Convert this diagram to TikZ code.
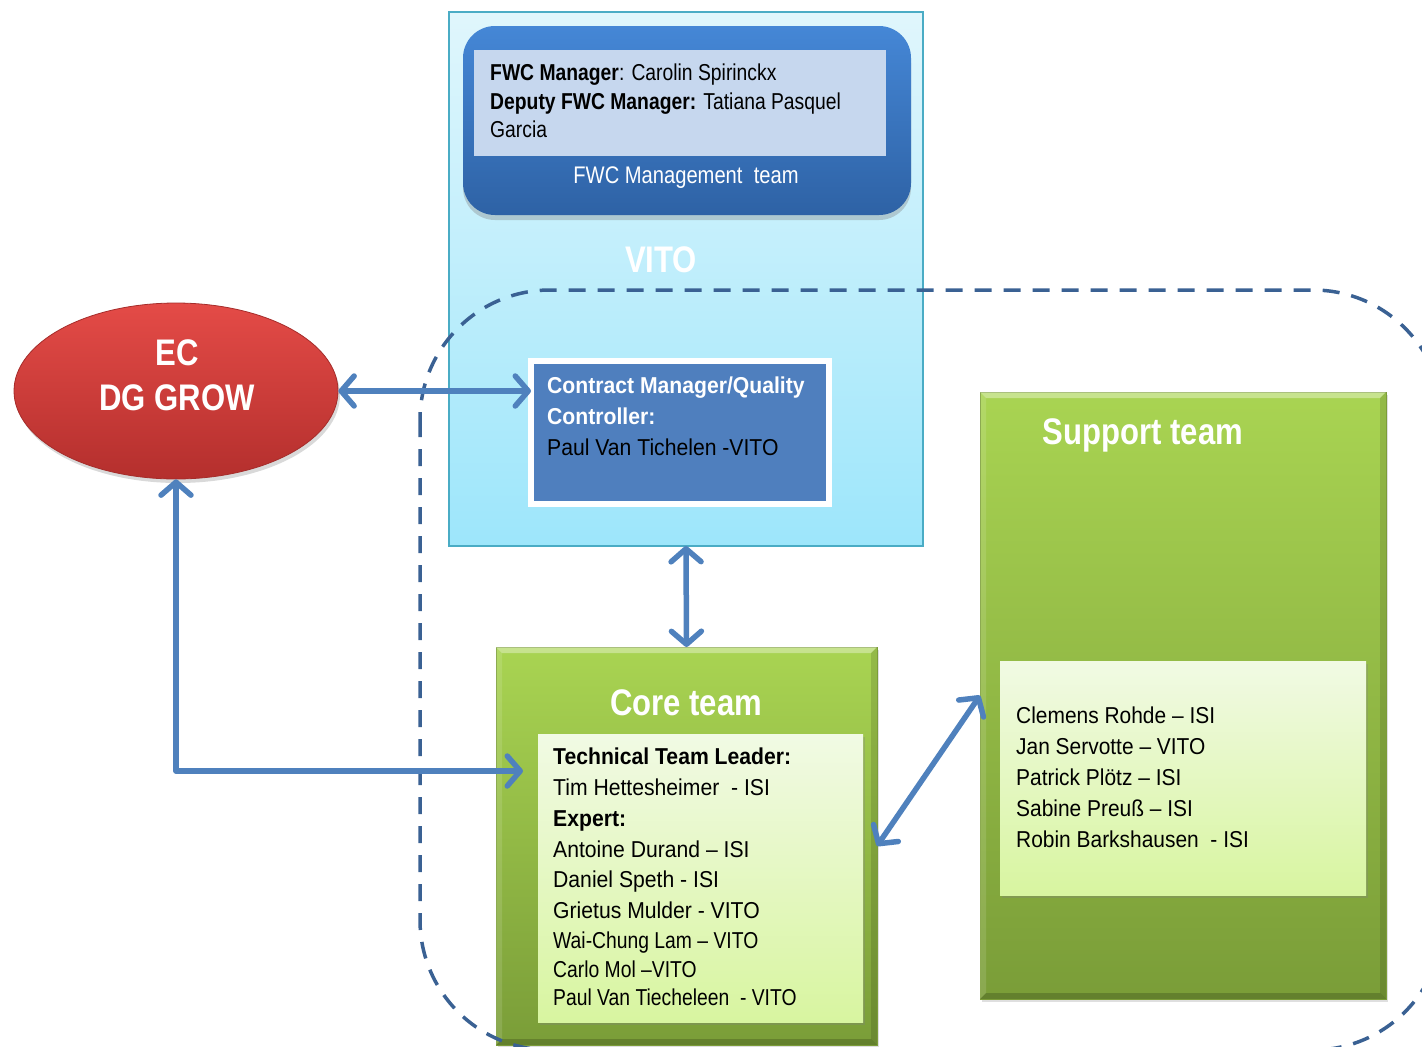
\documentclass[tikz,border=0pt]{standalone}
\usepackage{fontspec}
\setmainfont{Liberation Sans}
\newfontfamily\fA[FakeStretch=0.84]{Liberation Sans}
\newfontfamily\fB[FakeStretch=0.92]{Liberation Sans}
\newfontfamily\fD[FakeStretch=0.91]{Liberation Sans}
\usetikzlibrary{shapes.geometric,arrows.meta,shadows,calc}
\definecolor{vitoTop}{HTML}{E0F6FC}
\definecolor{vitoBot}{HTML}{9DE6FB}
\definecolor{vitoEdge}{HTML}{4AACC5}
\definecolor{fwcTop}{HTML}{4587D6}
\definecolor{fwcBot}{HTML}{2E62A5}
\definecolor{fwcIn}{HTML}{C6D7EE}
\definecolor{cmBlue}{HTML}{4F7FBE}
\definecolor{ecTop}{HTML}{E44B47}
\definecolor{ecBot}{HTML}{B42F2D}
\definecolor{ecEdge}{HTML}{A52C2A}
\definecolor{grTop}{HTML}{A9D452}
\definecolor{grBot}{HTML}{7A9D38}
\definecolor{grEdge}{HTML}{7D9F3A}
\definecolor{inTop}{HTML}{F1FAE4}
\definecolor{inBot}{HTML}{D8F5A0}
\definecolor{arrowBlue}{HTML}{4F81BD}
\definecolor{dashBlue}{HTML}{3A6193}
\newcommand\bevelbox[1]{%
  \fill[white,opacity=0.35] (#1.north west) -- (#1.north east) -- ($(#1.north east)+(-6,6)$) -- ($(#1.north west)+(6,6)$) -- cycle;
  \fill[white,opacity=0.12] (#1.north west) -- (#1.south west) -- ($(#1.south west)+(6,-6)$) -- ($(#1.north west)+(6,6)$) -- cycle;
  \fill[black,opacity=0.18] (#1.south west) -- (#1.south east) -- ($(#1.south east)+(-6,-6)$) -- ($(#1.south west)+(6,-6)$) -- cycle;
  \fill[black,opacity=0.12] (#1.north east) -- (#1.south east) -- ($(#1.south east)+(-6,-6)$) -- ($(#1.north east)+(-6,6)$) -- cycle;
}
\begin{document}
\begin{tikzpicture}[x=1pt,y=-1pt,
  box/.style={rectangle, inner sep=0pt, outer sep=0pt},
  vitobox/.style={box, draw=vitoEdge, line width=1.5pt, top color=vitoTop, bottom color=vitoBot},
  fwcbox/.style={box, rounded corners=32pt, top color=fwcTop, bottom color=fwcBot,
     drop shadow={opacity=0.35, shadow xshift=0pt, shadow yshift=-5pt}},
  fwcin/.style={box, fill=fwcIn},
  cmbox/.style={box, draw=white, line width=6pt, fill=cmBlue,
     drop shadow={opacity=0.25, shadow xshift=2pt, shadow yshift=-3pt}},
  ecshape/.style={ellipse, inner sep=0pt, draw=ecEdge, line width=0.8pt, top color=ecTop, bottom color=ecBot,
     drop shadow={opacity=0.3, shadow xshift=2pt, shadow yshift=-4pt}},
  greenbox/.style={box, draw=grEdge, line width=1pt, top color=grTop, bottom color=grBot,
     drop shadow={opacity=0.25, shadow xshift=2pt, shadow yshift=-3pt}},
  innerbox/.style={box, top color=inTop, bottom color=inBot,
     drop shadow={opacity=0.3, shadow xshift=2pt, shadow yshift=-3pt}},
  frame/.style={draw=dashBlue, line width=3.5pt, dash pattern=on 17pt off 12pt, rounded corners=130pt},
  link/.style={draw=arrowBlue, line width=5.5pt, line join=round,
     {Straight Barb[length=13pt,width=30pt,round]}-{Straight Barb[length=13pt,width=30pt,round]}},
  titlebig/.style={font=\fA\bfseries\fontsize{37}{40}\selectfont, text=white, inner sep=0pt, anchor=base},
  fwctxt/.style={font=\fA\fontsize{23}{28}\selectfont, inner sep=0pt, anchor=base west},
  cmtxt/.style={font=\fB\fontsize{23}{28}\selectfont, inner sep=0pt, anchor=base west},
  listwide/.style={font=\fB\fontsize{23}{28}\selectfont, inner sep=0pt, anchor=base west},
  listnarrow/.style={font=\fA\fontsize{23}{28}\selectfont, inner sep=0pt, anchor=base west},
  suptxt/.style={font=\fD\fontsize{23}{28}\selectfont, inner sep=0pt, anchor=base west},
]
\useasboundingbox (0,0) rectangle (1422,1047);
\clip (0,0) rectangle (1422,1047);

% VITO area
\node[vitobox, minimum width=474pt, minimum height=534pt] (vito) at (686,279) {};
\node[fwcbox, minimum width=448pt, minimum height=189pt] (fwc) at (687,120.5) {};
\node[fwcin, minimum width=412pt, minimum height=106pt] (fwcin) at (680,103) {};
\node[fwctxt] (f1) at (490,80) {\textbf{FWC Manager}: Carolin Spirinckx};
\node[fwctxt] (f2) at (490,109) {\textbf{Deputy FWC Manager:} Tatiana Pasquel};
\node[fwctxt] (f3) at (490,137) {Garcia};
\node[fwctxt, text=white, anchor=base, font=\fA\fontsize{24}{28}\selectfont] (fwclbl) at (686,183) {FWC Management\ \ team};
\node[titlebig] (vitolbl) at (661,272) {VITO};

\node[cmbox, minimum width=298pt, minimum height=143pt] (cm) at (680,432.5) {};
\node[cmtxt, text=white, font=\fB\bfseries\fontsize{23}{28}\selectfont] (cm1) at (547,393) {Contract Manager/Quality};
\node[cmtxt, text=white, font=\fB\bfseries\fontsize{23}{28}\selectfont] (cm2) at (547,424) {Controller:};
\node[cmtxt] (cm3) at (547,455) {Paul Van Tichelen\ -VITO};

% EC
\node[ecshape, minimum width=324pt, minimum height=176pt] (ec) at (176,391) {};
\node[titlebig] (ec1) at (177,365) {EC};
\node[titlebig] (ec2) at (177,410) {DG GROW};

% Core team
\node[greenbox, minimum width=381pt, minimum height=398pt] (core) at (686.5,846) {};
\bevelbox{core}
\node[titlebig] (corelbl) at (686,715) {Core team};
\node[innerbox, minimum width=325pt, minimum height=288pt] (corein) at (700.5,878) {};
\node[listwide] (c1) at (553,764) {\textbf{Technical Team Leader:}};
\node[listwide] (c2) at (553,795) {Tim Hettesheimer\ \ - ISI};
\node[listwide] (c3) at (553,826) {\textbf{Expert:}};
\node[listwide] (c4) at (553,857) {Antoine Durand – ISI};
\node[listwide] (c5) at (553,887) {Daniel Speth - ISI};
\node[listwide] (c6) at (553,918) {Grietus Mulder - VITO};
\node[listnarrow] (c7) at (553,948) {Wai-Chung Lam – VITO};
\node[listnarrow] (c8) at (553,977) {Carlo Mol –VITO};
\node[listnarrow] (c9) at (553,1005) {Paul Van Tiecheleen\ \ - VITO};

% Support team
\node[greenbox, minimum width=406pt, minimum height=607pt] (support) at (1183,695.5) {};
\bevelbox{support}
\node[titlebig] (suplbl) at (1143,444) {Support team};
\node[innerbox, minimum width=366pt, minimum height=234pt] (supin) at (1183,778) {};
\node[suptxt] (s1) at (1016,723) {Clemens Rohde – ISI};
\node[suptxt] (s2) at (1016,754) {Jan Servotte – VITO};
\node[suptxt] (s3) at (1016,785) {Patrick Plötz – ISI};
\node[suptxt] (s4) at (1016,816) {Sabine Preuß – ISI};
\node[suptxt] (s5) at (1016,847) {Robin Barkshausen\ \ - ISI};

% dashed frame
\draw[frame] (420,290) rectangle (1443,1050);

% connectors
\coordinate (ctip) at (523,771);
\draw[link] (ec.east) -- (cm.west |- ec.east);
\draw[link] (vito.south) -- (core.north);
\draw[link] (ec.south) |- (ctip);
\draw[link] (core.east) -- (support.west);
\end{tikzpicture}
\end{document}
